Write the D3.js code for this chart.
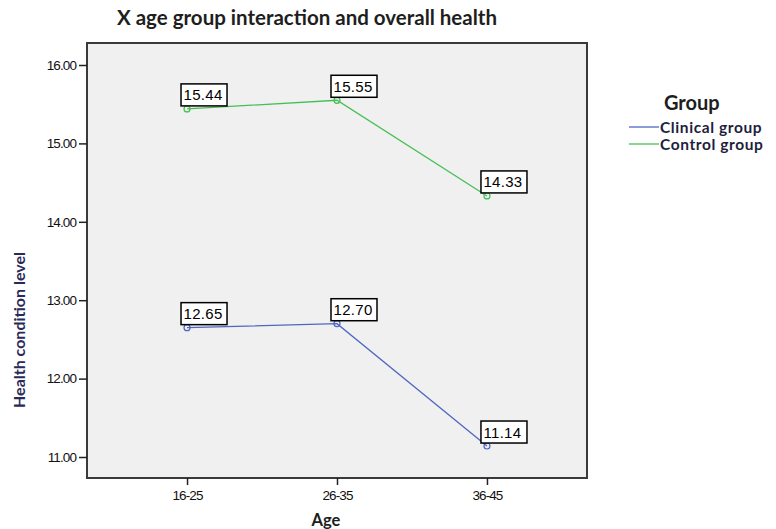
<!DOCTYPE html>
<meta charset="utf-8">
<script src="https://cdn.jsdelivr.net/npm/d3@7"></script>
<style>
  body { margin: 0; background: #fff; }
</style>
<div id="chart"></div>
<script>
// data
var ages = ["16-25", "26-35", "36-45"];
var groups = ["Clinical group", "Control group"];
var clinical = [12.65, 12.70, 11.14];
var control = [15.44, 15.55, 14.33];
var yTicks = [11, 12, 13, 14, 15, 16];
var colors = ["#4f67c2", "#45bf55"];

var W = 776, H = 529;
var plot = {left: 87, top: 43, right: 587, bottom: 478};

var svg = d3.select("#chart").append("svg")
  .attr("width", W).attr("height", H);

var x = d3.scalePoint()
  .domain(ages)
  .range([plot.left, plot.right])
  .padding(0.667);

var y = d3.scaleLinear()
  .domain([11, 16])
  .range([457, 65]);

// plot background + frame
svg.append("rect")
  .attr("x", plot.left).attr("y", plot.top)
  .attr("width", plot.right - plot.left)
  .attr("height", plot.bottom - plot.top)
  .attr("fill", "#f0f0f0")
  .attr("stroke", "#3a3a3a")
  .attr("stroke-width", 2);

// axes
var yAxis = svg.append("g")
  .attr("transform", "translate(" + plot.left + ",0)")
  .call(d3.axisLeft(y).tickValues(yTicks).tickFormat(d3.format(".2f")).tickSize(8).tickPadding(3));
var xAxis = svg.append("g")
  .attr("transform", "translate(0," + plot.bottom + ")")
  .call(d3.axisBottom(x).tickSize(7).tickPadding(5));

[yAxis, xAxis].forEach(function(g) {
  g.select(".domain").remove();
  g.selectAll("line").attr("stroke", "#222").attr("stroke-width", 1.5);
  g.selectAll("text")
    .attr("fill", "#111")
    .style("font-family", "'Liberation Sans', Arial, sans-serif")
    .style("font-size", "13.5px")
    .style("letter-spacing", "-0.9px");
});

// lines + markers + value boxes
var series = [clinical, control];
var line = d3.line()
  .x(function(d, i) { return x(ages[i]); })
  .y(function(d) { return y(d); });

series.forEach(function(vals, s) {
  svg.append("path")
    .datum(vals)
    .attr("d", line)
    .attr("fill", "none")
    .attr("stroke", colors[s])
    .attr("stroke-width", 1.3);

  svg.selectAll(".pt" + s)
    .data(vals)
    .enter().append("circle")
    .attr("cx", function(d, i) { return x(ages[i]); })
    .attr("cy", function(d) { return y(d); })
    .attr("r", 3)
    .attr("fill", "none")
    .attr("stroke", colors[s])
    .attr("stroke-width", 1.2);

  var lab = svg.selectAll(".lab" + s)
    .data(vals)
    .enter().append("g")
    .attr("transform", function(d, i) {
      return "translate(" + (x(ages[i]) - 6) + "," + (y(d) - 25) + ")";
    });
  lab.append("rect")
    .attr("width", 46).attr("height", 22)
    .attr("fill", "#fff")
    .attr("stroke", "#000")
    .attr("stroke-width", 1.5);
  lab.append("text")
    .attr("x", 2.5).attr("y", 16.5)
    .attr("fill", "#000")
    .style("font-family", "'Liberation Sans', Arial, sans-serif")
    .style("font-size", "15px")
    .style("letter-spacing", "0.3px")
    .text(function(d) { return d3.format(".2f")(d); });
});

// title and axis labels
svg.append("text")
  .attr("x", 307).attr("y", 25)
  .attr("text-anchor", "middle")
  .attr("fill", "#1e1e1e")
  .style("font-family", "Lato, sans-serif")
  .style("font-weight", "bold")
  .style("font-size", "20.5px")
  .text("X age group interaction and overall health");

svg.append("text")
  .attr("x", 326).attr("y", 526)
  .attr("text-anchor", "middle")
  .attr("fill", "#1e1e1e")
  .style("font-family", "Lato, sans-serif")
  .style("font-weight", "bold")
  .style("font-size", "16.5px")
  .text("Age");

svg.append("text")
  .attr("transform", "translate(25,330) rotate(-90)")
  .attr("text-anchor", "middle")
  .attr("fill", "#2a2a5a")
  .style("font-family", "Lato, sans-serif")
  .style("font-weight", "bold")
  .style("font-size", "16px")
  .text("Health condition level");

// legend
svg.append("text")
  .attr("x", 664).attr("y", 110)
  .attr("fill", "#1e1e1e")
  .style("font-family", "Lato, sans-serif")
  .style("font-weight", "bold")
  .style("font-size", "20px")
  .text("Group");

var leg = svg.selectAll(".leg")
  .data(groups)
  .enter().append("g")
  .attr("transform", function(d, i) { return "translate(629," + (127 + i * 17) + ")"; });
leg.append("line")
  .attr("x1", 0).attr("x2", 30)
  .attr("stroke", function(d, i) { return colors[i]; })
  .attr("stroke-width", 1.3);
leg.append("text")
  .attr("x", 31).attr("y", 5.5)
  .attr("fill", "#1e1e3e")
  .style("font-family", "Lato, sans-serif")
  .style("font-weight", "bold")
  .style("font-size", "15.5px")
  .style("letter-spacing", "0.6px")
  .text(function(d) { return d; });
</script>
